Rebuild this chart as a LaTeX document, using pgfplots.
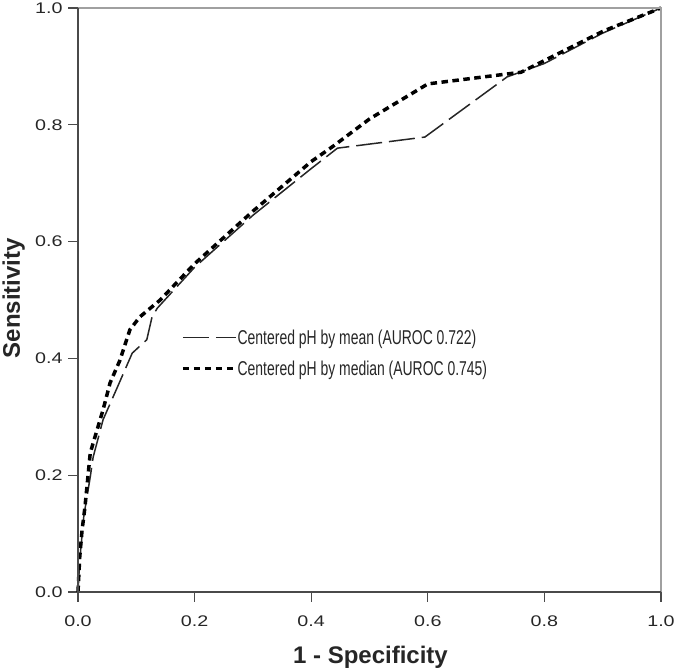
\documentclass[border=0pt]{standalone}
\usepackage{fontspec}
\setmainfont{Liberation Sans}
\usepackage{graphicx}
\usepackage{pgfplots}
\pgfplotsset{compat=1.18}
\definecolor{axdark}{HTML}{4A4A4A}
\definecolor{axlight}{HTML}{A0A0A0}
\definecolor{txt}{HTML}{262626}
\begin{document}
\begin{tikzpicture}
\useasboundingbox (-78bp,-80bp) rectangle (597bp,592bp);
\begin{axis}[
  scale only axis,
  width=583bp, height=584bp,
  xmin=0, xmax=1, ymin=0, ymax=1,
  clip=false,
  axis line style={draw=none},
  xtick={0,0.2,0.4,0.6,0.8,1.0},
  ytick={0,0.2,0.4,0.6,0.8,1.0},
  tick align=outside,
  xtick pos=bottom, ytick pos=left,
  major tick length=10bp,
  tick style={draw=axdark, line width=1.2bp},
  /pgf/number format/assume math mode=true,
  /pgf/number format/.cd, fixed, fixed zerofill, precision=1, /pgfplots/.cd,
  ticklabel style={font=\fontsize{15.4bp}{18bp}\selectfont, text=txt},
  xticklabel={\scalebox{1.28}[1]{\pgfmathprintnumber{\tick}}},
  yticklabel={\scalebox{1.28}[1]{\pgfmathprintnumber{\tick}}},
  xticklabel style={yshift=-10bp},
  yticklabel style={xshift=-2bp},
  xlabel={1 - Specificity},
  ylabel={Sensitivity},
  label style={font=\fontsize{24bp}{28bp}\selectfont\bfseries, text=txt},
  xlabel style={at={(rel axis cs:0.5017,-0.1216)}, anchor=base},
  ylabel style={at={(rel axis cs:-0.0995,0.503)}, anchor=base},
  legend style={at={(rel axis cs:0.1715,0.409)}, anchor=west, draw=none, fill=none,
    font=\fontsize{20bp}{23bp}\selectfont, text=txt,
    row sep=15bp,
    nodes={inner sep=0pt}},
  legend cell align=left,
  legend image code/.code={\draw[#1] (0bp,0bp) -- (53bp,0bp);},
]
\addplot[line width=1.5bp, color=black!85, dash pattern=on 26bp off 7bp] coordinates {
(0,0) (0.003,0.055) (0.010,0.13) (0.021,0.197) (0.026,0.231) (0.043,0.295)
(0.069,0.354) (0.093,0.409) (0.118,0.432) (0.127,0.471) (0.136,0.486)
(0.2,0.556) (0.3,0.645) (0.4,0.725) (0.445,0.760) (0.595,0.779)
(0.736,0.882) (0.8,0.905) (0.9,0.957) (1,1)
};
\addlegendentry{\scalebox{0.697}[1]{Centered pH by mean (AUROC 0.722)}}
\addplot[line width=3.5bp, color=black, dash pattern=on 6.5bp off 4.5bp] coordinates {
(0,0) (0.003,0.06) (0.007,0.106) (0.012,0.146) (0.021,0.238) (0.026,0.255)
(0.043,0.312) (0.055,0.358) (0.072,0.397) (0.089,0.449) (0.106,0.471)
(0.141,0.500) (0.2,0.562) (0.3,0.652) (0.4,0.737) (0.44,0.765) (0.5,0.81)
(0.6,0.87) (0.76,0.89) (0.8,0.91) (0.9,0.96) (1,1)
};
\addlegendentry{\scalebox{0.697}[1]{Centered pH by median (AUROC 0.745)}}
\draw[axlight, line width=1.5bp] (rel axis cs:0,1) -- (rel axis cs:1,1) -- (rel axis cs:1,0);
\draw[axdark, line width=1.5bp] (rel axis cs:0,1) -- (rel axis cs:0,0) -- (rel axis cs:1,0);
\end{axis}
\end{tikzpicture}
\end{document}
